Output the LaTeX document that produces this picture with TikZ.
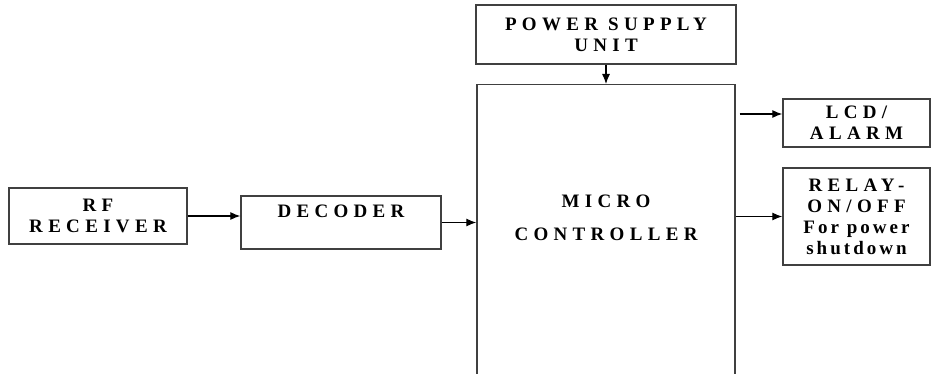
\documentclass[tikz,border=0pt]{standalone}
\usepackage{fontspec}
\setmainfont{Liberation Serif}
\newfontfamily\capsfont{Liberation Serif}[LetterSpace=28]
\newfontfamily\smallfont{Liberation Serif}[LetterSpace=16]
\usetikzlibrary{arrows.meta,positioning}

\tikzset{
  block/.style={draw=black!75, line width=1.4pt, rectangle, align=center, inner sep=0pt,
    font=\capsfont\bfseries\fontsize{19}{21}\selectfont},
  link/.style={-{Latex[length=10pt,width=8pt]}, line width=1.1pt},
}

\begin{document}
\begin{tikzpicture}[x=1pt, y=-1pt]
\clip (0,0) rectangle (933,374);
% input side
\node[block, minimum width=178pt, minimum height=56pt] (rf) at (98,216) {RF\\RECEIVER};
\node[block, minimum width=200pt, minimum height=53pt, text depth=22pt] (dec) at (341,222.5) {DECODER};

% controller and supply
\node[block, minimum width=260pt, minimum height=59pt] (psu) at (606,34.5) {POWER SUPPLY\\UNIT};
\node[block, anchor=north, minimum width=258pt, minimum height=320pt, text depth=53pt] (mcu) at (606,84) {MICRO\\[12pt]CONTROLLER};

% outputs
\node[block, minimum width=147pt, minimum height=48pt] (lcd) at (856.5,123) {LCD/\\ALARM};
\node[block, minimum width=147pt, minimum height=97pt] (relay) at (856.5,216.5) {RELAY-\\ON/OFF\\{\smallfont\bfseries For power}\\{\smallfont\bfseries shutdown}};
\coordinate (lcdin) at ([yshift=9pt]lcd.west);

\draw[link] (rf.east) -- (rf.east -| dec.west);
\draw[link] (dec.east) -- (dec.east -| mcu.west);
\draw[link] (psu) -- (mcu);
\draw[link, shorten <=4pt] (mcu.east |- lcdin) -- (lcdin);
\draw[link] (mcu.east |- relay.west) -- (relay.west);
\end{tikzpicture}
\end{document}
